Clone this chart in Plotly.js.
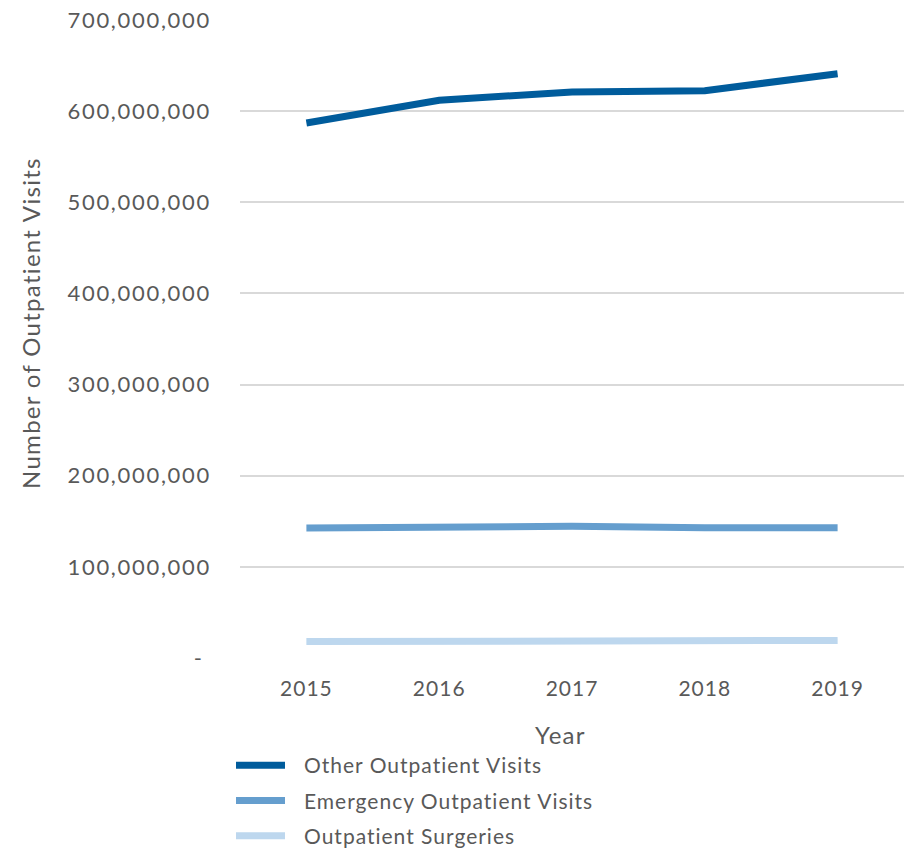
<!DOCTYPE html>
<html><head><meta charset="utf-8">
<script src="https://cdn.plot.ly/plotly-3.0.1.min.js"></script>
<style>
body{margin:0;background:#fff}#chart{width:904px;height:848px}
.ytick text{letter-spacing:1.7px}
.xtick text, .legendtext{letter-spacing:1px}
.annotation-text{letter-spacing:1.3px}
.legendtext{transform:translateX(14px)}
.legend .scrollbox, .legend{clip-path:none !important}
</style>
</head><body><div id="chart"></div>
<script>
const years = ["2015","2016","2017","2018","2019"];
const otherVisits = [587e6, 612e6, 621e6, 622.5e6, 641e6];
const emergencyVisits = [142.7e6, 144.5e6, 144.5e6, 142.8e6, 142.9e6];
const surgeries = [18.0e6, 18.5e6, 18.7e6, 18.8e6, 19.3e6];
const seriesNames = ["Other Outpatient Visits","Emergency Outpatient Visits","Outpatient Surgeries"];
const tickVals = [0,100e6,200e6,300e6,400e6,500e6,600e6,700e6];
const tickText = ["-&nbsp;","100,000,000","200,000,000","300,000,000","400,000,000","500,000,000","600,000,000","700,000,000"];

const colors = ["#005C9C","#659ECE","#BDD7EE"];
const fontFam = "Lato, 'Open Sans', sans-serif";
const grey = "#595959";

const data = [otherVisits, emergencyVisits, surgeries].map((v,i)=>({
  type:"scatter", mode:"lines", x:years, y:v, name:seriesNames[i], legendgroup:"g"+i,
  line:{color:colors[i], width:7}
}));

const layout = {
  width:904, height:848,
  margin:{l:240, r:0, t:20, b:190, autoexpand:false},
  paper_bgcolor:"#fff", plot_bgcolor:"#fff",
  font:{family:fontFam, color:grey, size:20},
  showlegend:true,
  legend:{orientation:"v", x:(231-240)/664, y:(658-745)/638, xanchor:"left", yanchor:"top",
    bgcolor:"rgba(0,0,0,0)",
    font:{size:21, color:grey, family:fontFam}, tracegroupgap:5, traceorder:"grouped", itemwidth:49},
  xaxis:{type:"category", range:[-0.5,4.5], showgrid:false, zeroline:false, showline:false, automargin:false,
    ticks:"", ticklabelstandoff:16, tickfont:{size:21, color:grey, family:fontFam}},
  yaxis:{range:[0,700e6], tickvals:tickVals, ticktext:tickText, showgrid:true, gridcolor:"#D9D9D9", gridwidth:2,
    zeroline:false, showline:false, ticks:"", ticklabelstandoff:28, automargin:false,
    tickfont:{size:22, color:grey, family:fontFam}},
  annotations:[
    {text:"Year", xref:"paper", yref:"paper", x:(560-240)/664, y:(658-735)/638, xanchor:"center", yanchor:"middle", showarrow:false,
      font:{size:24, color:grey, family:fontFam}},
    {text:"Number of Outpatient Visits", xref:"paper", yref:"paper", x:(30-240)/664, y:(658-323)/638, textangle:-90,
      xanchor:"center", yanchor:"middle", showarrow:false, font:{size:24, color:grey, family:fontFam}}
  ]
};
Plotly.newPlot("chart", data, layout, {displayModeBar:false, staticPlot:true});
</script></body></html>
